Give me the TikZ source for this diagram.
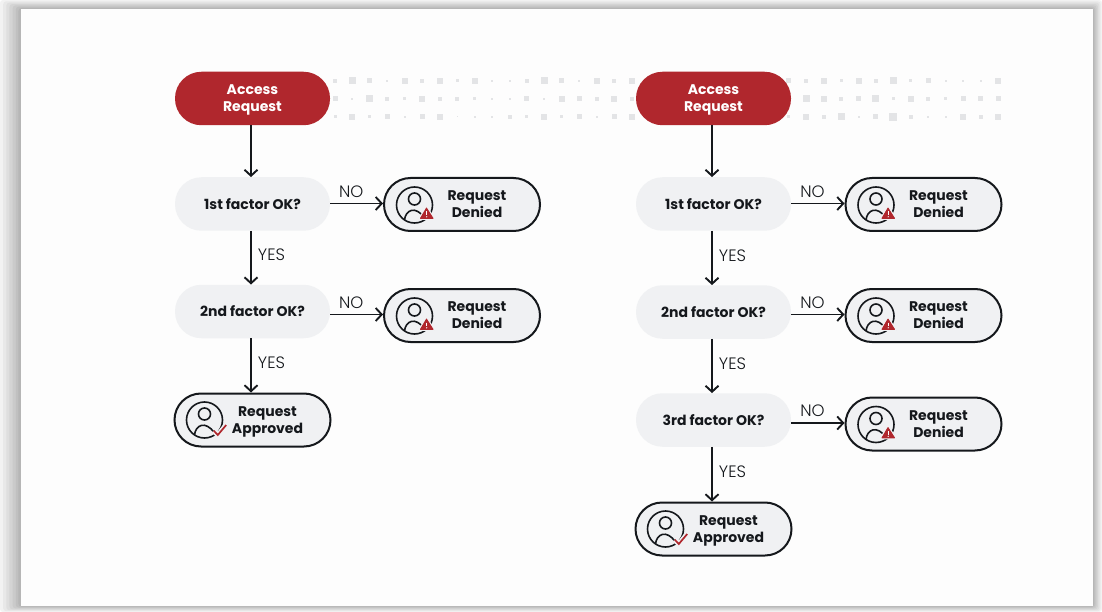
\documentclass[tikz,border=0pt]{standalone}
\usepackage{fontspec}
\setmainfont{Poppins}
\newfontfamily\lightface{Poppins Light}
\usetikzlibrary{arrows.meta}
\definecolor{pagec}{HTML}{FDFDFD}
\definecolor{crimson}{HTML}{B0272D}
\definecolor{pillg}{HTML}{F0F1F3}
\definecolor{inkc}{HTML}{15181C}
\definecolor{dotc}{HTML}{E3E4E6}
\tikzset{
  x=1pt,y=-1pt,
  pill/.style={rounded corners=26.5pt,minimum width=155pt,minimum height=53.5pt,inner sep=0pt,font=\fontsize{14}{17}\selectfont\bfseries,align=center},
  startpill/.style={pill,fill=crimson},
  askpill/.style={pill,fill=pillg,text=inkc},
  endpill/.style={pill,fill=pillg,draw=inkc,line width=2pt,minimum width=156pt,minimum height=53pt},
  pilltext/.style={font=\fontsize{14}{17}\selectfont\bfseries,align=center,text=inkc,inner sep=0pt},
  flow/.style={draw=inkc,line width=1.9pt,-{Straight Barb[length=6pt,width=13pt,line width=1.9pt]}},
  lab/.style={font=\fontsize{16.5}{18}\lightface,text=inkc,inner sep=0pt},
  iconline/.style={draw=inkc,line width=1.6pt},
}
\newcommand{\personicon}[1]{%
  \draw[iconline] (#1) ++(0,0) circle[radius=18pt];
  \draw[iconline] (#1) ++(0,-6) circle[radius=6pt];
  \draw[iconline] (#1) ++(-10,15) .. controls ++(1,-10) and ++(-9,-13) .. ++(20,-2);
}
\newcommand{\deniednode}[3]{%
  \node[endpill] (#1) at (#2,#3) {};
  \node[pilltext] (#1t) at ([xshift=15pt]#1.center) {Request\\Denied};
  \coordinate (#1i) at ([xshift=-47.5pt,yshift=-0.5pt]#1.center);
  \personicon{#1i}
  \fill[crimson,draw=pillg,line width=1.6pt,line join=round] ([shift={(12,1.5)}]#1i) -- ([shift={(20,14)}]#1i) -- ([shift={(4.5,14)}]#1i) -- cycle;
  \fill[crimson,line join=round,draw=crimson,line width=.8pt] ([shift={(12,3)}]#1i) -- ([shift={(18.6,13.4)}]#1i) -- ([shift={(5.9,13.4)}]#1i) -- cycle;
  \draw[white,line width=1.2pt] ([shift={(12.2,6.5)}]#1i) -- ([shift={(12.2,10)}]#1i);
  \fill[white] ([shift={(12.2,11.8)}]#1i) circle[radius=.7pt];
}
\newcommand{\approvednode}[3]{%
  \node[endpill] (#1) at (#2,#3) {};
  \node[pilltext] (#1t) at ([xshift=15pt,yshift=-1.5pt]#1.center) {Request\\Approved};
  \coordinate (#1i) at ([xshift=-48pt]#1.center);
  \personicon{#1i}
  \draw[pillg,line width=5pt] ([shift={(9.3,10.7)}]#1i) -- ([shift={(13.3,15)}]#1i) -- ([shift={(21.7,5)}]#1i);
  \draw[crimson,line width=1.7pt] ([shift={(9.3,10.7)}]#1i) -- ([shift={(13.3,15)}]#1i) -- ([shift={(21.7,5)}]#1i);
}
\begin{document}
\begin{tikzpicture}
\useasboundingbox (0,0) rectangle (1102,612);
% page shadow
\fill[white] (0,0) rectangle (1102,612);
\foreach \t/\c in {1/F2,.85/E8,.7/DE,.55/D4,.4/CA,.25/C0,.12/B6}{
  \definecolor{tmp}{HTML}{\c\c\c}
  \fill[tmp,rounded corners=3pt] ({21-21*\t},{9-9*\t}) rectangle ({1093+9*\t},{606+6*\t});
}
\fill[pagec] (21,9) rectangle (1093,606);
% dots
\foreach \row/\ys in {81/{4,7,5,2,6,4,6,3,6,2,2,4,7,5,2,6,4,6,0,0,0,0,0,0,0,0,5,4,6,3,6,4,7,3,5,2,2,2,6},
                      99/{5,2,7,4,3,6,4,4,3,2,2,5,2,6,5,4,6,4,0,0,0,0,0,0,0,0,0,7,6,4,5,7,3,6,4,3,5,5,5},
                      117/{3,6,3,5,2,5,6,1,2,2,4,3,6,3,5,2,5,6,0,0,0,0,0,0,0,0,3,6,4,7,2,5,8,4,2,2,6,4,6}}{
  \foreach \s [count=\i from 0] in \ys {
    \ifnum\s>0
      \fill[dotc] ({335+17.45*\i-\s/2},{\row-\s/2}) rectangle ++(\s,\s);
    \fi
  }
}
% left flow
\node[startpill] (la) at (252.5,98.5) {};
\node[pilltext,text=white] (lat) at ([yshift=-1.5pt]la.center) {Access\\Request};
\node[askpill] (l1) at (252.5,204) {1st factor OK?};
\node[askpill] (l2) at (252.5,311.5) {2nd factor OK?};
\deniednode{ld1}{462}{204.5}
\deniednode{ld2}{462}{315.5}
\approvednode{lok}{252.5}{420}
% right flow
\node[startpill] (ra) at (713.5,98.5) {};
\node[pilltext,text=white] (rat) at ([yshift=-1.5pt]ra.center) {Access\\Request};
\node[askpill] (r1) at (713.5,204) {1st factor OK?};
\node[askpill] (r2) at (713.5,312) {2nd factor OK?};
\node[askpill] (r3) at (713.5,420) {3rd factor OK?};
\deniednode{rd1}{923.5}{204.5}
\deniednode{rd2}{923.5}{315.5}
\deniednode{rd3}{923.5}{424}
\approvednode{rok}{713.5}{529}
% connectors left
\draw[flow] ([xshift=-1.5pt]la.south) -- ([xshift=-1.5pt]l1.north);
\draw[flow] ([xshift=-1.5pt]l1.south) -- ([xshift=-1.5pt]l2.north) node[lab,pos=.45,right=6pt] (ly1) {YES};
\draw[flow] ([xshift=-1.5pt]l2.south) -- ([xshift=-1.5pt]lok.north) node[lab,pos=.45,right=6pt] (ly2) {YES};
\draw[flow] ([yshift=1pt]l1.east |- ld1.west) -- ([yshift=1pt]ld1.west) node[lab,pos=.4,above=5pt] (ln1) {NO};
\draw[flow] ([yshift=1pt]l2.east |- ld2.west) -- ([yshift=1pt]ld2.west) node[lab,pos=.4,above=5pt] (ln2) {NO};
% connectors right
\draw[flow] ([xshift=-1.5pt]ra.south) -- ([xshift=-1.5pt]r1.north);
\draw[flow] ([xshift=-1.5pt]r1.south) -- ([xshift=-1.5pt]r2.north) node[lab,pos=.45,right=6pt] (ry1) {YES};
\draw[flow] ([xshift=-1.5pt]r2.south) -- ([xshift=-1.5pt]r3.north) node[lab,pos=.45,right=6pt] (ry2) {YES};
\draw[flow] ([xshift=-1.5pt]r3.south) -- ([xshift=-1.5pt]rok.north) node[lab,pos=.45,right=6pt] (ry3) {YES};
\draw[flow] ([yshift=1pt]r1.east |- rd1.west) -- ([yshift=1pt]rd1.west) node[lab,pos=.4,above=5pt] (rn1) {NO};
\draw[flow] ([yshift=1pt]r2.east |- rd2.west) -- ([yshift=1pt]rd2.west) node[lab,pos=.4,above=5pt] (rn2) {NO};
\draw[flow] ([yshift=1pt]r3.east |- rd3.west) -- ([yshift=1pt]rd3.west) node[lab,pos=.4,above=5pt] (rn3) {NO};
\end{tikzpicture}
\end{document}
